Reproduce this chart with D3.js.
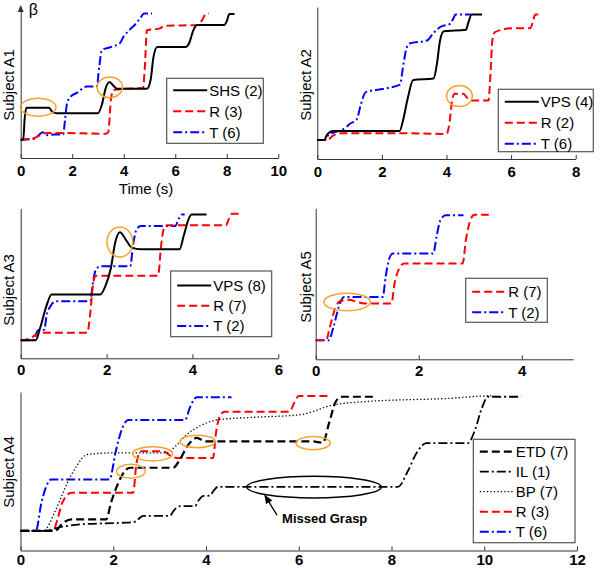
<!DOCTYPE html>
<html lang="en">
<head>
<meta charset="UTF-8"/>
<title>Grasp aperture traces per subject</title>
<script src="https://d3js.org/d3.v7.min.js"></script>
<style>
    body { margin: 0; background: #fff; }
    svg { display: block; font-family: Arial, "Liberation Sans", sans-serif; }
</style>
</head>
<body>
<script>
    // ---- data: [time (s), beta (arbitrary units, 0..100 of axis height)] ----
    var shsA1 = [[0,12],[0.1,12],[0.15,25],[0.22,33],[1.1,33],[1.25,30],[1.4,29.5],[3.0,29.5],[3.15,35],[3.3,46],[3.45,50],
                 [3.6,47.5],[3.75,45.5],[4.9,45.5],[5.05,52],[5.15,66],[5.3,73],[6.4,73],[6.55,76],[6.7,84],[6.85,87.5],
                 [7.9,87.5],[8.0,90],[8.1,94.7],[8.3,94.7]];
    var rA1 = [[0,12],[0.5,13],[1.0,16.5],[1.5,16.5],[3.3,16],[3.4,17],[3.5,38],[3.6,44.7],[4.0,45.5],[4.75,46],[4.82,60],
               [4.9,84],[5.4,85.3],[5.6,87],[6.9,87.5],[7.05,91],[7.2,95],[7.3,95]];
    var tA1 = [[0,12],[0.5,12.5],[0.7,15],[0.85,17],[1.0,15],[1.3,15.5],[1.65,15.5],[1.72,25],[1.8,36],[1.95,40.5],[2.2,43],
               [2.55,47],[2.95,47],[3.05,60],[3.15,71],[3.5,73],[3.85,75.5],[4.0,80],[4.15,83],[4.45,88],[4.6,91],[4.8,95],[5.1,95]];

    var vpsA2 = [[0,12.5],[0.22,12.5],[0.3,16],[0.5,18.5],[2.55,18.5],[2.65,25],[2.8,40],[2.97,52],[3.6,53],[3.7,62],
                 [3.8,78],[3.92,84],[4.6,85],[4.68,90],[4.78,95],[5.1,95]];
    var rA2 = [[0,12.5],[0.3,12.5],[0.5,15.5],[0.75,17],[2.5,17],[4.0,16.5],[4.1,25],[4.17,38],[4.25,43],[4.52,43],[4.65,40],
               [4.78,38.5],[5.3,38.5],[5.36,55],[5.42,78],[5.5,83.5],[6.05,86],[6.6,86],[6.68,91],[6.75,95],[6.95,95]];
    var tA2 = [[0,12.5],[0.24,12.5],[0.35,16],[0.6,18],[0.9,21],[1.0,23],[1.22,26],[1.35,36],[1.5,44],[2.0,46],[2.56,49],
               [2.65,60],[2.75,72],[2.85,76],[3.4,78],[3.6,83],[3.82,87],[4.12,89],[4.2,92],[4.28,95],[4.75,95]];

    var vpsA3 = [[0,12],[0.35,12],[0.45,20],[0.6,35],[0.72,42.5],[1.85,42.5],[1.97,48],[2.1,60],[2.2,77],[2.31,84],
                 [2.45,79],[2.58,74],[2.8,72.7],[3.7,72.7],[3.8,82],[3.9,92],[3.98,95.8],[4.33,95.8]];
    var rA3 = [[0,12],[0.2,13],[0.45,17],[1.55,17],[1.62,30],[1.68,48],[1.75,55],[3.2,55],[3.27,75],[3.33,86],[3.4,88.7],
               [4.78,88.7],[4.85,93],[4.92,96.4],[5.1,96.4]];
    var tA3 = [[0,12],[0.3,12],[0.4,18.7],[0.55,19],[0.6,28],[0.7,35],[0.82,38],[1.62,38],[1.68,50],[1.75,59],[1.85,61.3],
               [2.55,61.3],[2.62,76],[2.7,86],[2.8,88.2],[3.6,88.2],[3.68,93],[3.75,95.8],[3.82,95.8]];

    var rA5 = [[0,12.6],[0.2,12.6],[0.28,22],[0.38,34],[0.47,38.4],[0.65,39.5],[0.8,38],[0.95,37],[1.47,37],[1.53,50],
               [1.62,60],[1.72,63.4],[2.85,63.4],[2.92,80],[3.0,92],[3.08,95.8],[3.36,95.8]];
    var tA5 = [[0,12.6],[0.25,12.6],[0.35,22],[0.45,35],[0.55,41.3],[1.3,41.3],[1.36,55],[1.42,66],[1.5,70],[2.28,70],
               [2.35,82],[2.42,92],[2.52,95.4],[2.87,95.4]];

    var etdA4 = [[0,12.4],[0.75,12.4],[0.9,17],[1.1,19.7],[1.85,19.7],[1.95,30],[2.1,42],[2.2,48],[2.36,52.2],[3.29,52.2],
                 [3.45,58],[3.6,66],[3.8,71],[4.0,68.8],[6.3,68.8],[6.52,68],[6.65,80],[6.8,94],[6.92,97],[7.6,97]];
    var ilA4 = [[0,12.4],[0.5,12.4],[0.9,15],[1.35,16.6],[2.2,17.5],[2.45,18],[2.65,21.8],[3.22,21.8],[3.3,25],[3.44,28],
                [3.76,28],[3.85,32],[3.94,34.4],[4.08,34.6],[4.17,38],[4.26,40.2],[8.14,40.2],[8.35,50],[8.55,62],[8.75,67.8],
                [9.65,67.8],[9.8,76],[9.95,90],[10.08,97],[10.8,97]];
    var bpA4 = [[0,12.4],[0.5,12.4],[0.75,25],[1.0,42],[1.21,53.2],[1.43,60.5],[2.0,61.6],[3.15,61.6],[3.35,66],[3.58,73],
                [3.9,79],[4.23,82.4],[5.0,84],[6.02,85.6],[6.74,91.8],[7.46,94],[9.26,96],[10.08,97.5],[10.2,97.5]];
    var rA4 = [[0,12.4],[0.7,12.4],[0.8,20],[0.9,30],[1.1,36.5],[2.43,36.5],[2.5,55],[2.6,62.6],[3.08,62.6],[3.22,60],
               [3.37,58.4],[4.15,58.4],[4.22,75],[4.3,85],[4.4,87.6],[5.8,87.6],[5.9,93],[6.0,97.5],[6.7,97.5]];
    var tA4 = [[0,12.4],[0.33,12.4],[0.45,30],[0.55,40],[0.66,44.8],[1.92,44.8],[2.05,62],[2.18,76],[2.32,82.4],[3.55,82.4],
               [3.65,90],[3.8,96.7],[4.55,96.7]];

    // highlighted regions: [t0, t1, beta0, beta1]
    var marksA1 = [[-0.01,1.37,27.5,39.3],[2.97,3.95,39.7,53.3]];
    var marksA2 = [[4.0,4.8,34.5,48.3]];
    var marksA3 = [[2.01,2.61,67.5,87.5]];
    var marksA5 = [[0.16,1.06,32.2,43.8]];
    var marksA4 = [[2.07,2.69,45.6,54.4],[2.42,3.28,56.5,65.5],[3.44,4.2,64.9,72.7],[5.94,6.68,63.6,72]];
    var missedA4 = [4.88,7.78,33.2,46.8];
    var missedLabel = "Missed Grasp";

    var ticksA1 = [0,2,4,6,8,10];
    var ticksA2 = [0,2,4,6,8];
    var ticksA3 = [0,2,4,6];
    var ticksA5 = [0,2,4];
    var ticksA4 = [0,2,4,6,8,10,12];

    // ---- styles ----
    var styles = {
        solid:   {color: "#000", dash: null, width: 2},
        dashR:   {color: "#ff0000", dash: "8,4", width: 2},
        dashDotB:{color: "#0000ff", dash: "9,3,2,3", width: 2},
        dashK:   {color: "#000", dash: "8,4", width: 2.2},
        dashDotK:{color: "#000", dash: "9,3,2,3", width: 1.8},
        dotK:    {color: "#000", dash: "1.3,2.2", width: 1.3}
    };
    var orange = "#f7a330";

    var panels = [
        {label: "Subject A1", x0: 20.7, x1: 278.3, xMax: 10, yBot: 158, yTop: 6, ticks: ticksA1, pad: 7,
         labelX: 8, labelY: 85, legend: {x: 166.7, y: 78.3, w: 96.6, h: 65, first: 12, step: 21},
         series: [{name: "SHS (2)", data: shsA1, s: "solid"}, {name: "R (3)", data: rA1, s: "dashR"}, {name: "T (6)", data: tA1, s: "dashDotB"}],
         marks: marksA1, arrow: true},
        {label: "Subject A2", x0: 317.3, x1: 575.7, xMax: 8, yBot: 159, yTop: 7, ticks: ticksA2, pad: 7,
         labelX: 305, labelY: 85, legend: {x: 498.3, y: 89.3, w: 95, h: 62.4, first: 12.4, step: 21},
         series: [{name: "VPS (4)", data: vpsA2, s: "solid"}, {name: "R (2)", data: rA2, s: "dashR"}, {name: "T (6)", data: tA2, s: "dashDotB"}],
         marks: marksA2},
        {label: "Subject A3", x0: 20.7, x1: 278.3, xMax: 6, yBot: 358.3, yTop: 208.3, ticks: ticksA3, pad: 6,
         labelX: 8, labelY: 290, legend: {x: 170.7, y: 271, w: 101, h: 65.7, first: 14.5, step: 20.2},
         series: [{name: "VPS (8)", data: vpsA3, s: "solid"}, {name: "R (7)", data: rA3, s: "dashR"}, {name: "T (2)", data: tA3, s: "dashDotB"}],
         marks: marksA3},
        {label: "Subject A5", x0: 315.7, x1: 573.3, xMax: 5, yBot: 359.3, yTop: 208.3, ticks: ticksA5, pad: 6,
         labelX: 305, labelY: 287, legend: {x: 465.7, y: 278.3, w: 81.6, h: 44, first: 13.4, step: 20.6},
         series: [{name: "R (7)", data: rA5, s: "dashR"}, {name: "T (2)", data: tA5, s: "dashDotB"}],
         marks: marksA5},
        {label: "Subject A4", x0: 20.5, x1: 577, xMax: 12, yBot: 550.5, yTop: 392, ticks: ticksA4, pad: 4,
         labelX: 8, labelY: 472, legend: {x: 473.3, y: 439.3, w: 101.7, h: 103.4, first: 12.4, step: 20},
         series: [{name: "ETD (7)", data: etdA4, s: "dashK"}, {name: "IL (1)", data: ilA4, s: "dashDotK"},
                  {name: "BP (7)", data: bpA4, s: "dotK"}, {name: "R (3)", data: rA4, s: "dashR"}, {name: "T (6)", data: tA4, s: "dashDotB"}],
         marks: marksA4, missed: missedA4}
    ];

    var svg = d3.select("body").append("svg")
                .attr("width", 600)
                .attr("height", 569);

    svg.append("defs").append("marker")
        .attr("id", "head")
        .attr("viewBox", "0 0 10 10")
        .attr("refX", 9).attr("refY", 5)
        .attr("markerWidth", 7).attr("markerHeight", 7)
        .attr("orient", "auto")
        .append("path").attr("d", "M0,1L10,5L0,9Z").attr("fill", "#000");

    panels.forEach(function(p) {
        var x = d3.scaleLinear().domain([0, p.xMax]).range([p.x0, p.x1]);
        var y = d3.scaleLinear().domain([0, 100]).range([p.yBot, p.yTop]);
        var g = svg.append("g");

        var line = d3.line()
            .x(function(d) { return x(d[0]); })
            .y(function(d) { return y(d[1]); })
            .curve(d3.curveMonotoneX);

        // axes
        var xAxis = d3.axisBottom(x).tickValues(p.ticks).tickFormat(d3.format("d"))
                      .tickSizeInner(-4).tickSizeOuter(0).tickPadding(p.pad);
        var ax = g.append("g").attr("transform", "translate(0," + p.yBot + ")").call(xAxis);
        ax.selectAll("path,line").attr("stroke", "#333");
        ax.selectAll("text").attr("font-size", 15).attr("font-weight", "bold")
          .attr("font-family", "Arial, 'Liberation Sans', sans-serif").attr("fill", "#000");

        var yTop = p.arrow ? p.yTop + 4 : p.yTop;
        var ay = g.append("g").attr("transform", "translate(" + p.x0 + ",0)")
                  .call(d3.axisLeft(d3.scaleLinear().range([p.yBot, yTop])).ticks(0).tickSizeOuter(0));
        ay.selectAll("path").attr("stroke", "#333");

        if (p.arrow) {
            g.append("path")
                .attr("d", "M" + p.x0 + "," + (p.yTop - 1) + "L" + (p.x0 - 3) + "," + (p.yTop + 6) + "L" + (p.x0 + 3) + "," + (p.yTop + 6) + "Z")
                .attr("fill", "#333");
            g.append("text").attr("x", p.x0 + 8).attr("y", 15).attr("font-size", 16).text("β");
        }

        g.append("text")
            .attr("transform", "translate(" + p.labelX + "," + p.labelY + ") rotate(-90)")
            .attr("text-anchor", "middle")
            .attr("dominant-baseline", "central")
            .attr("font-size", 15)
            .text(p.label);

        // traces, drawn last-to-first so the first legend entry sits on top
        p.series.slice().reverse().forEach(function(s) {
            var st = styles[s.s];
            g.append("path")
                .datum(s.data)
                .attr("d", line)
                .attr("fill", "none")
                .attr("stroke", st.color)
                .attr("stroke-width", st.width)
                .attr("stroke-dasharray", st.dash)
                .attr("stroke-linejoin", "round");
        });

        // highlight ellipses
        g.selectAll("ellipse.mark")
            .data(p.marks)
            .enter()
            .append("ellipse")
            .attr("class", "mark")
            .attr("cx", function(d) { return x((d[0] + d[1]) / 2); })
            .attr("cy", function(d) { return y((d[2] + d[3]) / 2); })
            .attr("rx", function(d) { return (x(d[1]) - x(d[0])) / 2; })
            .attr("ry", function(d) { return (y(d[2]) - y(d[3])) / 2; })
            .attr("fill", "none")
            .attr("stroke", orange)
            .attr("stroke-width", 1.5);

        if (p.missed) {
            var m = p.missed;
            g.append("ellipse")
                .attr("cx", x((m[0] + m[1]) / 2))
                .attr("cy", y((m[2] + m[3]) / 2))
                .attr("rx", (x(m[1]) - x(m[0])) / 2)
                .attr("ry", (y(m[2]) - y(m[3])) / 2)
                .attr("fill", "none")
                .attr("stroke", "#000")
                .attr("stroke-width", 1.5);
            g.append("line")
                .attr("x1", x(5.53)).attr("y1", y(22.3))
                .attr("x2", x(5.27)).attr("y2", y(34.8))
                .attr("stroke", "#000").attr("stroke-width", 1.3)
                .attr("marker-end", "url(#head)");
            g.append("text")
                .attr("x", x(5.64)).attr("y", y(17.2))
                .attr("font-size", 13).attr("font-weight", "bold")
                .text(missedLabel);
        }

        // legend
        var L = p.legend;
        var lg = g.append("g").attr("transform", "translate(" + L.x + "," + L.y + ")");
        lg.append("rect").attr("width", L.w).attr("height", L.h)
          .attr("fill", "#fff").attr("stroke", "#555").attr("stroke-width", 1.2);
        var rows = lg.selectAll("g.row")
            .data(p.series)
            .enter()
            .append("g")
            .attr("transform", function(d, i) { return "translate(0," + (L.first + i * L.step) + ")"; });
        rows.append("line")
            .attr("x1", 6.5).attr("x2", 40.5)
            .attr("stroke", function(d) { return styles[d.s].color; })
            .attr("stroke-width", function(d) { return styles[d.s].width; })
            .attr("stroke-dasharray", function(d) { return styles[d.s].dash; });
        rows.append("text")
            .attr("x", 42.5).attr("y", 5.5)
            .attr("font-size", 15)
            .text(function(d) { return d.name; });
    });

    // x-axis title of the first panel
    svg.append("text")
        .attr("x", 146).attr("y", 194)
        .attr("text-anchor", "middle")
        .attr("font-size", 15)
        .text("Time (s)");
</script>
</body>
</html>
